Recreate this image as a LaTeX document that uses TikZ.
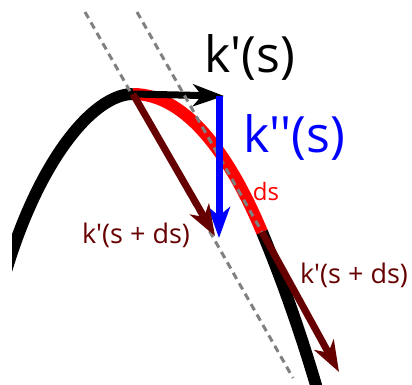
\documentclass[tikz,border=0pt]{standalone}
\usepackage{fontspec}
\setmainfont{Open Sans}[Ligatures=TeXOff]
\usepackage{tikz}
\usetikzlibrary{arrows.meta}
\definecolor{darkred}{HTML}{660000}

\begin{document}
\begin{tikzpicture}[
    x=1pt, y=-1pt,
    curve/.style={line width=12pt},
    arr/.style={-{Stealth[length=31pt, width=22pt, inset=9pt]}, line width=7pt},
    guide/.style={gray, line width=3pt, dash pattern=on 7pt off 5pt},
    lbl/.style={anchor=base, inner sep=0pt},
    big/.style={font=\fontsize{50}{60}\selectfont},
    small/.style={font=\fontsize{27}{32}\selectfont}
]
    \useasboundingbox (0,0) rectangle (412,385);
    \clip (12,0) rectangle (412,385);

    \coordinate (left)  at (2,285);
    \coordinate (peak)  at (133,94);
    \coordinate (dsend) at (262,232);
    \coordinate (low)   at (318,392);
    \coordinate (kend)  at (224,96);
    \coordinate (btop)  at (219,96);
    \coordinate (bend)  at (219,238);
    \coordinate (tipa)  at (215,236);
    \coordinate (tipb)  at (339,372);
    \coordinate (gaone) at (85,12);
    \coordinate (gbone) at (293,378);
    \coordinate (gatwo) at (137,12);

    \draw[curve] (left) .. controls (35,165) and (92,94) .. (peak);
    \draw[curve] (dsend) .. controls (280,275) and (300,330) .. (low);
    \draw[curve, red] (peak) .. controls (188,94) and (232,160) .. (dsend);

    \draw[arr] (peak) -- (kend);
    \draw[guide] (gaone) -- (gbone);
    \draw[guide] (gatwo) -- (dsend);
    \draw[arr, blue] (btop) -- (bend);
    \draw[arr, darkred] (peak) -- (tipa);
    \draw[arr, darkred] (dsend) -- (tipb);

    \node[lbl, big] (ks) at (250,73) {k'(s)};
    \node[lbl, big, blue] (kks) at (294,152) {k''(s)};
    \node[lbl, small, darkred] (ka) at (136,243) {k'(s + ds)};
    \node[lbl, small, darkred] (kb) at (354,283) {k'(s + ds)};
    \node[lbl, red, font=\fontsize{24}{28}\selectfont] (ds) at (266,200) {ds};
\end{tikzpicture}
\end{document}
